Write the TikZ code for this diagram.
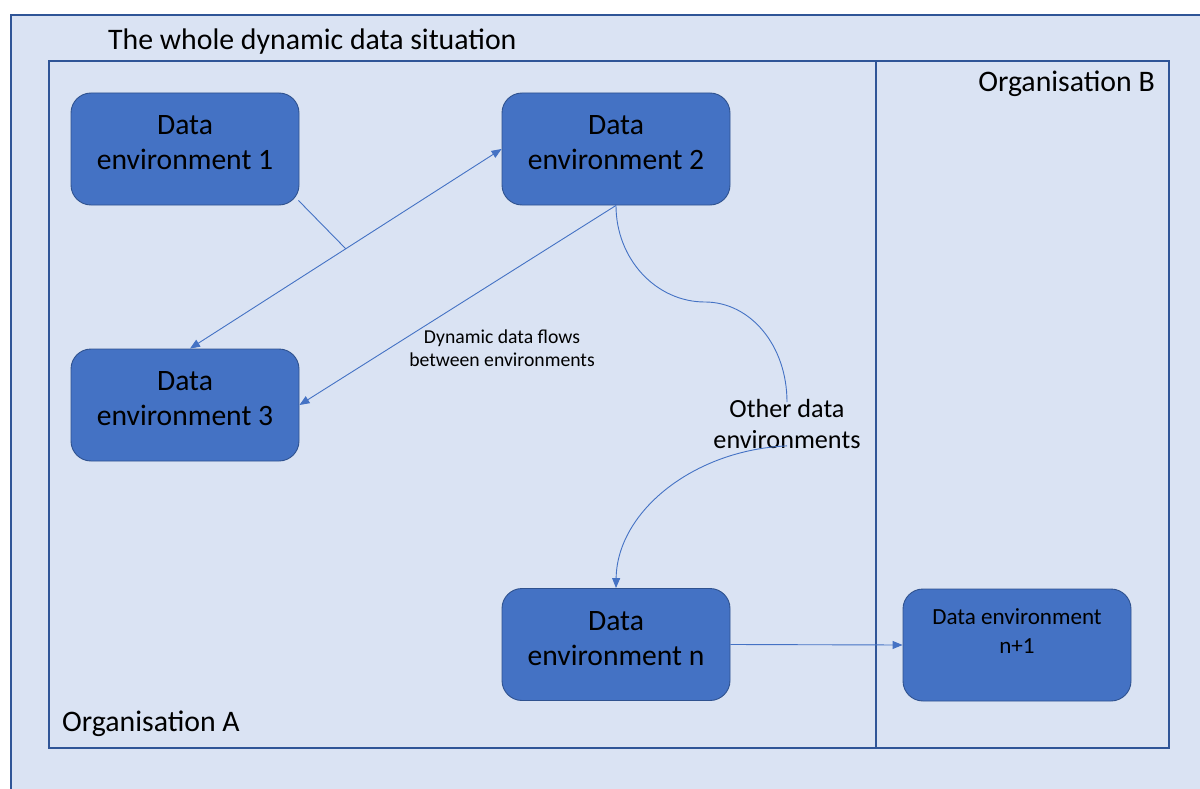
\documentclass[tikz,border=0pt]{standalone}
\usepackage{fontspec}
\setmainfont{Carlito}
\usetikzlibrary{arrows.meta,calc}
\definecolor{pagebg}{HTML}{DAE3F3}
\definecolor{framecol}{HTML}{2F5597}
\definecolor{boxfill}{HTML}{4472C4}
\definecolor{boxline}{HTML}{2F528F}
\definecolor{flowcol}{HTML}{4472C4}
\tikzset{
  envbox/.style={draw=boxline, line width=0.9pt, fill=boxfill, rounded corners=20pt,
    minimum width=228pt, minimum height=112pt, inner sep=0pt},
  boxtxt/.style={align=center, inner sep=0pt, font=\fontsize{29.6}{35}\selectfont},
  smalltxt/.style={align=center, inner sep=0pt, font=\fontsize{23.1}{29}\selectfont},
  frame/.style={draw=framecol, line width=1.2pt},
  lbl/.style={inner sep=0pt, font=\fontsize{29.8}{35}\selectfont},
  flow/.style={draw=flowcol, line width=0.9pt},
  tip/.style={-{Triangle[length=10pt,width=8pt]}},
  tips/.style={{Triangle[length=10pt,width=8pt]}-{Triangle[length=10pt,width=8pt]}}
}
\begin{document}
\begin{tikzpicture}[x=1pt,y=-1pt]
  \useasboundingbox (0,0) rectangle (1200,789);
  \fill[white] (0,0) rectangle (1200,789);
  \clip (0,0) rectangle (1200,789);

  % outer frame: the whole situation
  \path[frame, fill=pagebg] (11,15) rectangle (1215,805);
  \node[lbl, anchor=west] (title) at (108,42) {The whole dynamic data situation};

  % the two organisations
  \path[frame] (49,61) rectangle (876,748);
  \path[frame] (876,61) rectangle (1169,748);
  \node[lbl, anchor=east] (orgb) at (1155,84) {Organisation B};
  \node[lbl, anchor=west] (orga) at (62,724) {Organisation A};

  % data environments
  \node[envbox] (de1) at (185,149) {};
  \node[envbox] (de2) at (616,149) {};
  \node[envbox] (de3) at (185,405) {};
  \node[envbox] (den) at (616,644.5) {};
  \node[envbox] (dn1) at (1017,645) {};

  \node[boxtxt] (de1t) at ([yshift=6.5pt]de1.center) {Data\\environment 1};
  \node[boxtxt] (de2t) at ([yshift=6.5pt]de2.center) {Data\\environment 2};
  \node[boxtxt] (de3t) at ([yshift=6pt]de3.center) {Data\\environment 3};
  \node[boxtxt] (dent) at ([yshift=5.5pt]den.center) {Data\\environment n};
  \node[smalltxt] (dn1t) at ([yshift=13.5pt]dn1.center) {Data environment\\n+1};

  % labels
  \node[align=center, inner sep=0pt, font=\fontsize{19.7}{23}\selectfont] (flows) at (502,348.5)
    {Dynamic data flows\\between environments};
  \node[align=center, inner sep=0pt, font=\fontsize{26.2}{31}\selectfont] (other) at (787,424)
    {Other data\\environments};

  % flows between environments
  \draw[flow, tips] ([xshift=5pt]de3.north) -- (de2.west);
  \coordinate (mid) at ($([xshift=5pt]de3.north)!0.5!(de2.west)$);
  \draw[flow] ([xshift=-1pt,yshift=5pt]de1.south east) -- (mid);
  \draw[flow, tip] (de2.south) -- (de3.east);
  \coordinate (bend) at (705,302);
  \draw[flow] (de2.south) .. controls (616,259) and (656,302) .. (bend)
    .. controls (750,302) and (787,345) .. ([yshift=-3pt]other.north);
  \draw[flow, tip] ([yshift=3pt]other.south) .. controls (693,450) and (617,512) .. (den.north);
  \draw[flow, tip] (den.east) -- (dn1.west);
\end{tikzpicture}
\end{document}
